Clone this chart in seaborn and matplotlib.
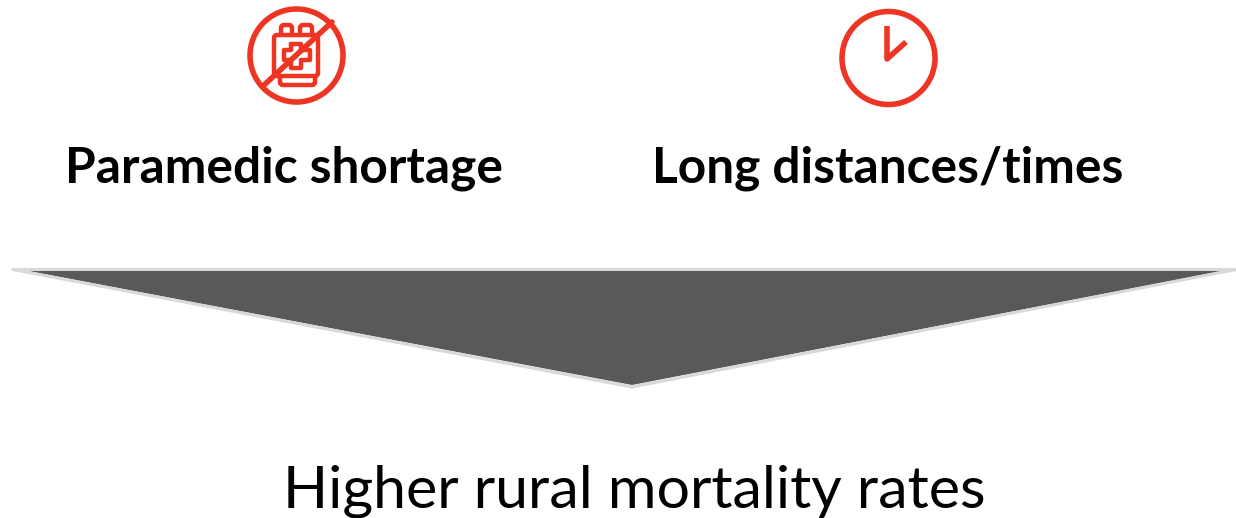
import numpy as np
import matplotlib.pyplot as plt
from matplotlib.patches import Circle, FancyBboxPatch
import seaborn as sns

labels = ['Paramedic shortage', 'Long distances/times']
label_x = [284, 888]
label_y = 168
result_text = 'Higher rural mortality rates'
result_pos = [634, 491]

# arrow shape, in picture pixels
arrow_x = [28, 1222, 632]
arrow_y = [271, 271, 385]
edge_x = [13, 1236, 632, 13]
edge_y = [269.5, 269.5, 387, 269.5]

red = '#ee3524'
dark = '#595959'
light = '#d9d9d9'

# icon parts
ban_center = (296.5, 55.5)
clock_center = (888.5, 58)
icon_radius = 46.5
hand_x = [906, 887, 887]
hand_y = [42, 59, 26]
slash_x = [263, 332]
slash_y = [86, 22]
cross_x = [291, 301, 301, 310, 310, 301, 301, 291, 291, 284, 284, 291, 291]
cross_y = [44, 44, 50, 50, 60, 60, 68, 68, 60, 60, 50, 50, 44]

sns.set_theme(style='white')
plt.rcParams['font.family'] = ['Lato', 'DejaVu Sans']

fig, ax = plt.subplots(figsize=(12.36, 5.18), dpi=100)
ax.set_position([0, 0, 1, 1])
ax.set_xlim(0, 1236)
ax.set_ylim(518, 0)
ax.axis('off')

lw = 4


def rounded(x0, y0, x1, y1, pad=3, fc='none', z=3):
    ax.add_patch(FancyBboxPatch((x0 + pad, y0 + pad), x1 - x0 - 2 * pad, y1 - y0 - 2 * pad,
                                boxstyle=f'round,pad={pad}', fc=fc, ec=red, lw=lw * 0.8, zorder=z))


# backpack with a line through it
ax.add_patch(Circle(ban_center, icon_radius, fc='none', ec=red, lw=lw))
rounded(281, 25, 292, 36)
rounded(300, 25, 312, 36)
rounded(280, 72, 315, 85)
rounded(274, 35, 318, 76, fc='white')
ax.plot(cross_x, cross_y, color=red, lw=lw * 0.8, solid_joinstyle='round', zorder=4)
ax.plot(slash_x, slash_y, color=red, lw=lw, zorder=6)

# clock
ax.add_patch(Circle(clock_center, icon_radius, fc='none', ec=red, lw=lw))
ax.plot(hand_x, hand_y, color=red, lw=lw, solid_joinstyle='round', solid_capstyle='butt')

for text, x in zip(labels, label_x):
    ax.text(x, label_y, text, fontsize=35.7, fontweight='bold', color='black', ha='center', va='center')

ax.plot(edge_x, edge_y, color=light, lw=2.2, solid_joinstyle='miter')
ax.fill(arrow_x, arrow_y, color=dark, lw=0)

ax.text(result_pos[0], result_pos[1], result_text, fontsize=42.6, color='black', ha='center', va='center')

fig.savefig('out.png', dpi=100)
